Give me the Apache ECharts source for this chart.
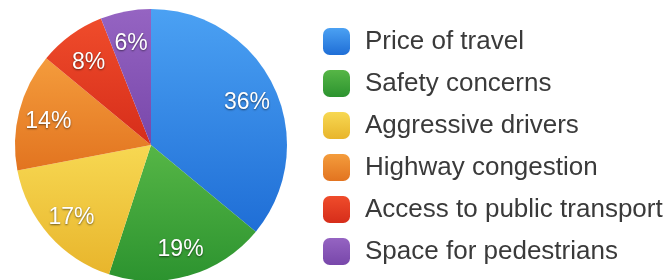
<!DOCTYPE html>
<html>
<head>
<meta charset="utf-8">
<script src="https://cdn.jsdelivr.net/npm/echarts@6/dist/echarts.min.js"></script>
<style>
  html, body { margin: 0; padding: 0; background: #fff; }
  #chart { width: 672px; height: 280px; }
</style>
</head>
<body>
<div id="chart"></div>
<script>
const categories = ['Price of travel', 'Safety concerns', 'Aggressive drivers', 'Highway congestion', 'Access to public transport', 'Space for pedestrians'];
const shares = [36, 19, 17, 14, 8, 6];
// top / bottom shade of each slice
const topColors = ['#4ba1f3', '#56b646', '#f7d852', '#f49c3c', '#ef4c2b', '#9564c2'];
const bottomColors = ['#1f6ed6', '#2c932f', '#e8b52c', '#e27420', '#d62d1a', '#7847aa'];

const chart = echarts.init(document.getElementById('chart'));

const grad = i => new echarts.graphic.LinearGradient(0, 0, 0, 1, [
  { offset: 0, color: topColors[i] },
  { offset: 1, color: bottomColors[i] }
]);

const pieData = categories.map((name, i) => ({
  name,
  value: shares[i],
  itemStyle: { color: grad(i) }
}));

const option = {
  backgroundColor: '#fff',
  animation: false,
  color: bottomColors,
  legend: {
    orient: 'vertical',
    left: 318,
    top: 23,
    icon: 'roundRect',
    itemWidth: 27,
    itemHeight: 27,
    itemGap: 15,
    selectedMode: false,
    data: categories.map((name, i) => ({ name, itemStyle: { color: grad(i) } })),
    textStyle: {
      color: '#3a3a3a',
      fontSize: 26,
      fontFamily: 'Liberation Sans, Arial, sans-serif',
      padding: [0, 0, 0, 10]
    }
  },
  series: [
    {
      name: 'slices',
      type: 'pie',
      center: [151, 145],
      radius: [0, 136],
      startAngle: 90,
      clockwise: true,
      label: { show: false },
      labelLine: { show: false },
      emphasis: { disabled: true },
      data: pieData
    },
    {
      // transparent ring used only to place labels at ~3/4 radius
      name: 'labels',
      type: 'pie',
      center: [151, 148],
      radius: [68, 138],
      startAngle: 90,
      clockwise: true,
      silent: true,
      legendHoverLink: false,
      itemStyle: { color: 'rgba(0,0,0,0)' },
      label: {
        show: true,
        position: 'inside',
        formatter: '{c}%',
        color: '#ffffff',
        fontSize: 23,
        fontFamily: 'Liberation Sans, Arial, sans-serif',
        textShadowColor: 'rgba(0,0,0,0.55)',
        textShadowBlur: 2,
        textShadowOffsetY: 1
      },
      labelLine: { show: false },
      emphasis: { disabled: true },
      data: categories.map((name, i) => ({ name: name + ' ', value: shares[i] }))
    }
  ]
};
chart.setOption(option);
window.addEventListener('resize', () => chart.resize());
</script>
</body>
</html>
